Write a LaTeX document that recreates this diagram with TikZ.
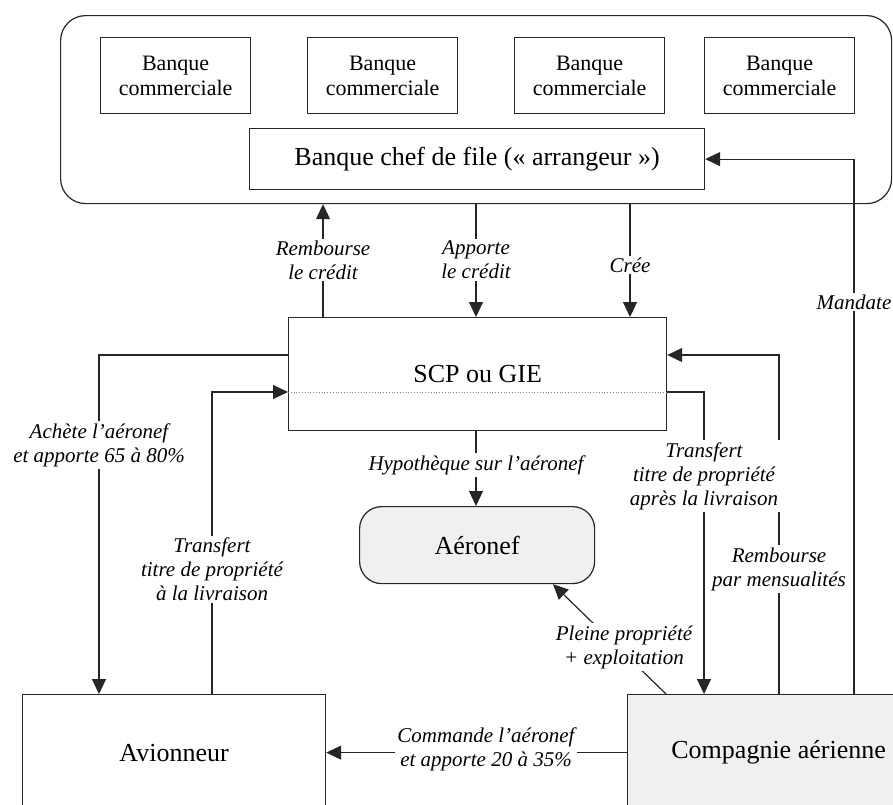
\documentclass[tikz,border=0pt]{standalone}
\usepackage{fontspec}
\setmainfont{Liberation Serif}
\usetikzlibrary{arrows.meta,calc}

\begin{document}
\begin{tikzpicture}[x=1pt,y=-1pt,
  box/.style={draw=black!85, line width=1.2pt, inner sep=0pt, anchor=north west,
    align=center, font=\fontsize{26}{30}\selectfont},
  bank/.style={box, minimum width=150pt, minimum height=76pt,
    font=\fontsize{22}{25}\selectfont},
  shaded/.style={fill=black!6},
  lab/.style={fill=white, inner sep=2pt, align=center,
    font=\itshape\fontsize{21}{24}\selectfont},
  link/.style={draw=black!85, line width=1.2pt},
  arr/.style={link, -{Triangle[length=15pt,width=14pt]}}
]
\useasboundingbox (0,0) rectangle (893,804);
\clip (0,0) rectangle (893,804);

% banking syndicate
\node[box, rounded corners=25pt, minimum width=831pt, minimum height=188pt] (group) at (60,15) {};
\node[bank] (b1) at (100,37) {Banque\\commerciale};
\node[bank] (b2) at (307,37) {Banque\\commerciale};
\node[bank] (b3) at (514,37) {Banque\\commerciale};
\node[bank] (b4) at (704,37) {Banque\\commerciale};
\node[box, minimum width=455pt, minimum height=61pt] (chef) at (249,128) {Banque chef de file («~arrangeur~»)};

% main actors
\node[box, minimum width=378pt, minimum height=113pt] (scp) at (288,317) {SCP ou GIE};
\node[box, shaded, rounded corners=22pt, minimum width=235pt, minimum height=77pt] (aero) at (359,506) {Aéronef};
\node[box, minimum width=303pt, minimum height=116pt] (avion) at (22,694) {Avionneur};
\node[box, shaded, minimum width=302pt, minimum height=116pt] (comp) at (627,694) {Compagnie aérienne};

% guide positions for the connectors
\coordinate (vA) at (99,0);
\coordinate (vB) at (212,0);
\coordinate (vC) at (323,0);
\coordinate (vD) at (476,0);
\coordinate (vE) at (630,0);
\coordinate (vF) at (704,0);
\coordinate (vG) at (779,0);
\coordinate (vH) at (854,0);
\coordinate (vP) at (666,0);
\coordinate (vQ) at (553,0);
\coordinate (hA) at (0,355);
\coordinate (hB) at (0,392);

% dotted split inside the SCP box
\draw[dotted, black!50, line width=0.8pt] (scp.west |- hB) -- (scp.east |- hB);

% connectors
\draw[arr] (scp.north -| vC) -- (group.south -| vC);
\draw[arr] (group.south -| vD) -- (scp.north -| vD);
\draw[arr] (group.south -| vE) -- (scp.north -| vE);
\draw[arr] (comp.north -| vH) |- (chef.east);
\draw[arr] (comp.north -| vG) |- (scp.east |- hA);
\draw[arr] (scp.east |- hB) -| (comp.north -| vF);
\draw[arr] (scp.west |- hA) -| (avion.north -| vA);
\draw[arr] (avion.north -| vB) |- (scp.west |- hB);
\draw[arr] (scp.south -| vD) -- (aero.north -| vD);
\draw[arr] (comp.north -| vP) -- (aero.south -| vQ);
\draw[arr] (comp.west) -- (avion.east);

% connector labels
\node[lab] (l1) at (323,260) {Rembourse\\le crédit};
\node[lab] (l2) at (476,260) {Apporte\\le crédit};
\node[lab] (l3) at (630,265) {Crée};
\node[lab] (l4) at (854,302) {Mandate};
\node[lab] (l5) at (99,445) {Achète l’aéronef\\et apporte 65 à 80\%};
\node[lab] (l6) at (212,569) {Transfert\\titre de propriété\\à la livraison};
\node[lab] (l7) at (476,465) {Hypothèque sur l’aéronef};
\node[lab] (l8) at (704,476) {Transfert\\titre de propriété\\après la livraison};
\node[lab] (l9) at (779,569) {Rembourse\\par mensualités};
\node[lab] (l10) at (624,647) {Pleine propriété\\+ exploitation};
\node[lab] (l11) at (486,749) {Commande l’aéronef\\et apporte 20 à 35\%};
\end{tikzpicture}
\end{document}
